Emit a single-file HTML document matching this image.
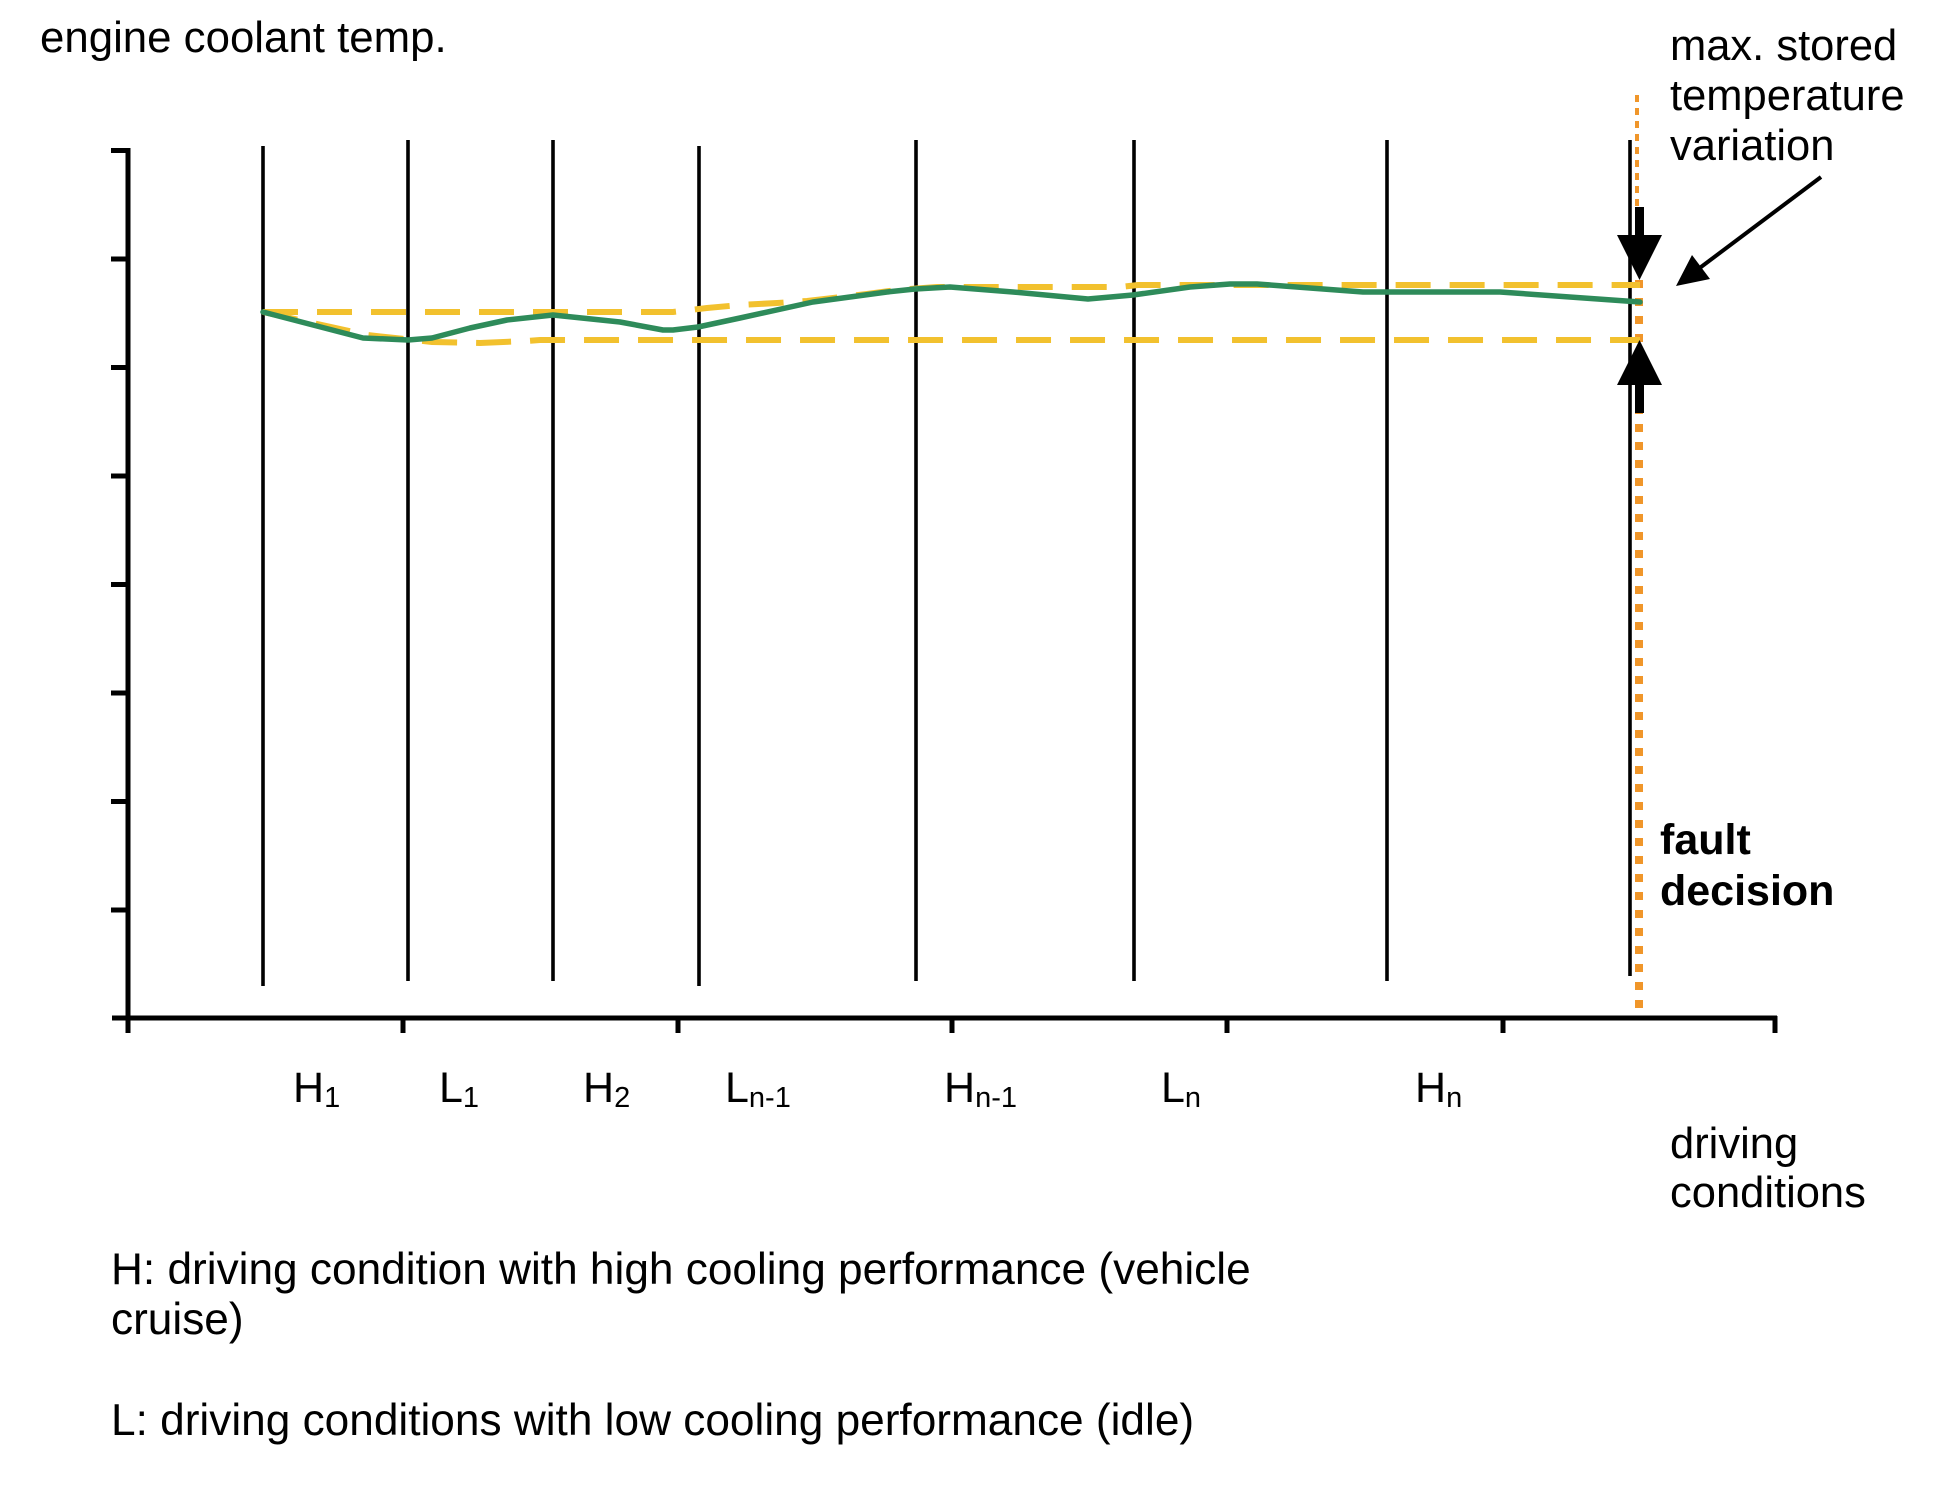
<!DOCTYPE html>
<html>
<head>
<meta charset="utf-8">
<style>
  html, body { margin: 0; padding: 0; background: #ffffff; }
  svg { display: block; }
  text { font-family: "Liberation Sans", Arial, sans-serif; fill: #000; }
</style>
</head>
<body>
<svg width="1937" height="1489" viewBox="0 0 1937 1489" xmlns="http://www.w3.org/2000/svg">
  <rect x="0" y="0" width="1937" height="1489" fill="#ffffff"/>

  <!-- title -->
  <text x="40" y="52" font-size="43.8">engine coolant temp.</text>

  <!-- y axis -->
  <line x1="128" y1="148" x2="128" y2="1033" stroke="#000" stroke-width="5"/>
  <g stroke="#000" stroke-width="5">
    <line x1="111" y1="150.5" x2="128" y2="150.5"/>
    <line x1="111" y1="259" x2="128" y2="259"/>
    <line x1="111" y1="367.5" x2="128" y2="367.5"/>
    <line x1="111" y1="476" x2="128" y2="476"/>
    <line x1="111" y1="584.5" x2="128" y2="584.5"/>
    <line x1="111" y1="693" x2="128" y2="693"/>
    <line x1="111" y1="801.5" x2="128" y2="801.5"/>
    <line x1="111" y1="910" x2="128" y2="910"/>
  </g>

  <!-- x axis -->
  <line x1="112" y1="1018" x2="1777" y2="1018" stroke="#000" stroke-width="5"/>
  <g stroke="#000" stroke-width="5">
    <line x1="403" y1="1018" x2="403" y2="1033"/>
    <line x1="678" y1="1018" x2="678" y2="1033"/>
    <line x1="952" y1="1018" x2="952" y2="1033"/>
    <line x1="1227" y1="1018" x2="1227" y2="1033"/>
    <line x1="1503" y1="1018" x2="1503" y2="1033"/>
    <line x1="1775" y1="1016" x2="1775" y2="1033"/>
  </g>

  <!-- vertical condition separators -->
  <g stroke="#000" stroke-width="3.6">
    <line x1="263" y1="146" x2="263" y2="986"/>
    <line x1="408" y1="140" x2="408" y2="981"/>
    <line x1="553" y1="140" x2="553" y2="981"/>
    <line x1="699" y1="146" x2="699" y2="986"/>
    <line x1="916" y1="140" x2="916" y2="981"/>
    <line x1="1134" y1="140" x2="1134" y2="981"/>
    <line x1="1387" y1="140" x2="1387" y2="981"/>
    <line x1="1630" y1="140" x2="1630" y2="976"/>
  </g>

  <!-- orange dotted fault decision line -->
  <line x1="1637" y1="95" x2="1637" y2="206" stroke="#F0962A" stroke-width="4" stroke-dasharray="7 6"/>
  <line x1="1639" y1="280" x2="1639" y2="1010" stroke="#F0962A" stroke-width="8" stroke-dasharray="8 10"/>

  <!-- yellow dashed envelope -->
  <polyline fill="none" stroke="#F2C12E" stroke-width="6" stroke-dasharray="35 19"
    points="263,312 673,312 707,308 740,305 777,303 807,301 867,294 897,290 937,287 1120,287 1138,285 1640,285"/>
  <polyline fill="none" stroke="#F2C12E" stroke-width="6" stroke-dasharray="35 19"
    points="263,312 367,335 432,342 480,343 527,341 540,340 1640,340"/>

  <!-- green temperature curve -->
  <polyline fill="none" stroke="#2E8B5A" stroke-width="5.5" stroke-linejoin="round" stroke-linecap="round"
    points="263,312 363,338 408,340 432,338 470,328 507,320 553,315 620,322 663,330 673,330 698,327 740,318 813,302 887,292 915,289 950,287 1013,292 1088,299 1133,295 1190,287 1230,284 1257,284 1363,292 1500,292 1640,302"/>

  <!-- black arrows at fault decision -->
  <rect x="1635" y="207" width="9" height="30" fill="#000"/>
  <polygon points="1617,235 1662,235 1639.5,280" fill="#000"/>
  <rect x="1635" y="383" width="9" height="30" fill="#000"/>
  <polygon points="1617,385 1662,385 1639.5,340" fill="#000"/>

  <!-- diagonal pointer arrow -->
  <line x1="1821" y1="177" x2="1697" y2="270" stroke="#000" stroke-width="4"/>
  <polygon points="1676,286 1692,255 1710,279" fill="#000"/>

  <!-- right-side labels -->
  <text x="1670" y="60" font-size="43.5">max. stored</text>
  <text x="1670" y="110" font-size="43.5">temperature</text>
  <text x="1670" y="160" font-size="43.5">variation</text>

  <text x="1660" y="854" font-size="43" font-weight="bold">fault</text>
  <text x="1660" y="905" font-size="43" font-weight="bold">decision</text>

  <text x="1670" y="1158" font-size="43.5">driving</text>
  <text x="1670" y="1207" font-size="43.5">conditions</text>

  <!-- x axis condition labels -->
  <g font-size="43">
    <text x="293" y="1102">H<tspan font-size="29" dy="5">1</tspan></text>
    <text x="439" y="1102">L<tspan font-size="29" dy="5">1</tspan></text>
    <text x="583" y="1102">H<tspan font-size="29" dy="5">2</tspan></text>
    <text x="725" y="1102">L<tspan font-size="29" dy="5">n-1</tspan></text>
    <text x="944" y="1102">H<tspan font-size="29" dy="5">n-1</tspan></text>
    <text x="1161" y="1102">L<tspan font-size="29" dy="5">n</tspan></text>
    <text x="1415" y="1102">H<tspan font-size="29" dy="5">n</tspan></text>
  </g>

  <!-- legend -->
  <text x="111" y="1284" font-size="44.2">H: driving condition with high cooling performance (vehicle</text>
  <text x="111" y="1334" font-size="44.2">cruise)</text>
  <text x="111" y="1435" font-size="44.2">L: driving conditions with low cooling performance (idle)</text>
</svg>
</body>
</html>
